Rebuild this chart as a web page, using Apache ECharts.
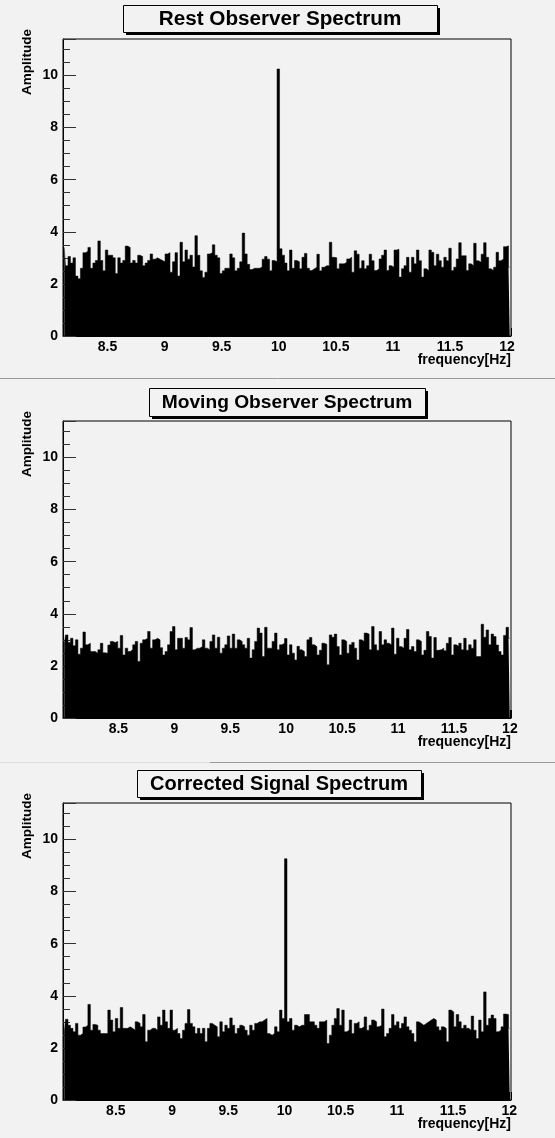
<!DOCTYPE html>
<html>
<head>
<meta charset="utf-8">
<title>Observer spectra</title>
<script src="https://cdn.jsdelivr.net/npm/echarts@6/dist/echarts.min.js"></script>
<style>
  html, body { margin: 0; padding: 0; background: #f2f2f2; }
  #chart { width: 555px; height: 1138px; }
</style>
</head>
<body>
<div id="chart"></div>
<script>
// panel titles and frequency range of each spectrum (Hz)
const titles = ['Rest Observer Spectrum', 'Moving Observer Spectrum', 'Corrected Signal Spectrum'];
const freqRanges = [[8.11, 12.035], [8.005, 12.01], [8.03, 12.015]];
const ampMax = 11.4;

// amplitude envelope (one value per ~2.5 px column)
const restAmp = [
  3.4, 2.7, 3.05, 2.8, 3.0, 2.3, 2.2, 2.6, 3.2, 3.25, 3.4, 2.6, 2.8, 2.9, 3.65, 2.9, 2.5, 3.3, 3.1, 3.1,
  3.0, 2.4, 3.0, 2.8, 2.9, 3.45, 3.4, 2.8, 2.9, 2.8, 3.1, 3.05, 2.7, 2.8, 2.9, 3.15, 2.95, 3.0, 2.95, 2.9,
  2.85, 3.15, 3.2, 2.45, 2.85, 3.2, 2.3, 3.6, 2.85, 3.3, 2.95, 3.1, 2.65, 3.85, 3.1, 2.5, 2.25, 2.45, 3.15, 3.2,
  3.5, 3.1, 3.0, 2.4, 2.5, 2.6, 2.6, 3.15, 3.0, 2.5, 2.6, 2.85, 3.95, 3.15, 2.75, 2.55, 2.6, 2.6, 2.6, 2.65,
  2.95, 3.05, 2.95, 2.5, 2.9, 2.85, 10.25, 3.35, 3.1,
  2.8, 2.5, 3.3, 2.6, 2.9, 2.85, 2.58, 3.02, 3.17, 2.6, 2.51, 2.58, 2.64, 3.14, 2.5, 2.64, 2.7, 2.7, 3.6, 3.02,
  3.0, 2.58, 2.77, 2.77, 2.83, 2.96, 3.02, 2.45, 3.27, 3.14, 2.6, 2.89, 2.58, 2.7, 3.14, 2.89, 2.51, 2.58, 2.96, 3.1,
  3.3, 2.51, 2.7, 2.64, 3.3, 3.33, 2.26, 2.58, 2.7, 3.02, 2.45, 3.02, 2.77, 3.3, 2.89, 2.26, 2.58, 2.51, 3.3, 3.21,
  2.7, 3.14, 2.89, 2.64, 3.02, 2.89, 3.37, 2.51, 2.64, 2.96, 3.58, 3.08, 3.08, 2.51, 2.77, 2.7, 3.56, 2.89, 2.83, 3.14,
  3.58, 3.02, 2.58, 2.51, 2.64, 3.21, 2.89, 2.96, 3.43, 3.46, 2.64
];
const movingAmp = [
  2.81, 3.19, 2.9, 3.06, 2.77, 3.0, 2.45, 2.68, 3.3, 2.81, 2.87, 2.55, 2.55, 2.49, 2.62, 2.87, 2.5, 2.49, 2.8, 2.94,
  2.9, 2.94, 2.68, 3.17, 2.42, 2.68, 2.55, 2.62, 2.81, 2.94, 2.17, 2.87, 3.0, 3.06, 3.32, 2.68, 3.0, 3.06, 3.0, 2.7,
  2.42, 2.55, 2.81, 3.32, 3.51, 2.62, 3.06, 3.06, 2.68, 3.09, 3.0, 3.47, 2.62, 2.68, 2.68, 2.74, 3.0, 2.68, 2.62, 2.94,
  3.19, 2.68, 3.1, 2.49, 2.68, 2.81, 3.15, 2.68, 3.22, 2.68, 3.0, 2.94, 2.81, 2.68, 3.06, 2.3, 2.62, 2.94, 3.45, 3.26,
  2.36, 3.48, 2.68, 2.68, 2.94, 3.26, 2.62, 2.81, 2.87,
  3.05, 2.42, 2.81, 2.49, 2.23, 2.75, 2.62, 2.55, 2.36, 3.0, 3.09, 2.81, 2.74, 2.42, 2.6, 2.87, 2.83, 2.04, 3.19, 3.1,
  3.22, 2.74, 2.42, 3.0, 2.94, 2.49, 2.81, 2.9, 2.68, 2.23, 3.0, 2.94, 3.26, 3.22, 2.62, 3.51, 2.81, 2.6, 3.32, 2.81,
  3.0, 2.87, 2.81, 3.45, 2.45, 3.06, 2.74, 2.68, 3.06, 3.4, 2.62, 2.74, 2.55, 3.0, 2.94, 2.42, 2.6, 3.32, 3.13, 2.3,
  3.09, 2.6, 2.62, 2.68, 2.58, 2.87, 3.09, 2.42, 2.81, 2.75, 2.87, 2.62, 3.06, 2.6, 2.81, 2.68, 3.0, 2.36, 2.36, 3.6,
  3.1, 3.38, 2.81, 3.22, 3.13, 2.8, 2.55, 2.42, 3.17, 3.48, 3.06
];
const correctedAmp = [
  2.55, 3.1, 2.87, 2.75, 2.62, 2.94, 2.49, 2.55, 2.8, 2.87, 3.67, 2.68, 2.9, 2.87, 2.68, 2.55, 2.55, 2.55, 3.45, 3.07,
  2.62, 3.13, 2.75, 3.55, 2.75, 2.75, 2.81, 2.75, 2.68, 3.0, 2.94, 2.81, 3.28, 2.24, 2.68, 2.75, 2.75, 2.68, 3.19, 2.87,
  3.45, 3.0, 2.75, 3.45, 2.68, 2.75, 2.55, 2.36, 2.68, 2.94, 3.47, 2.94, 2.81, 2.55, 2.75, 2.55, 2.75, 2.24, 2.75, 2.94,
  2.87, 2.81, 2.43, 3.0, 2.62, 2.87, 2.75, 3.15, 2.87, 2.55, 2.75, 2.87, 2.81, 2.68, 2.49, 2.87, 2.68, 2.94, 3.0, 3.0,
  3.07, 3.13, 2.55, 2.49, 2.55, 2.81, 2.62, 3.45, 3.13,
  9.26, 3.0, 3.13, 2.68, 2.87, 2.81, 2.87, 2.87, 3.28, 3.28, 3.0, 3.0, 2.87, 2.75, 3.0, 3.0, 3.07, 2.17, 2.49, 2.87,
  3.13, 3.51, 2.87, 3.45, 2.62, 2.68, 3.07, 2.55, 2.94, 3.0, 2.75, 2.81, 3.19, 2.68, 2.87, 3.07, 3.0, 2.81, 2.87, 3.49,
  2.43, 2.55, 2.75, 3.28, 2.87, 3.0, 2.75, 2.94, 3.19, 2.81, 2.68, 2.55, 2.24, 3.0, 2.94, 2.87, 2.94, 3.0, 3.07, 3.13,
  3.07, 2.81, 2.68, 2.81, 2.75, 2.24, 3.45, 3.38, 2.81, 3.28, 3.0, 2.75, 2.87, 2.75, 2.68, 3.22, 2.68, 2.36, 3.07, 2.62,
  4.15, 2.87, 3.13, 3.26, 3.13, 2.62, 2.68, 2.81, 3.3, 3.28, 2.75
];
const spectra = [restAmp, movingAmp, correctedAmp];

// layout
const frameLeft = 63, frameWidth = 448, frameHeight = 297;
const frameTops = [39, 421, 803];
const titleBoxes = [
  { x: 123, y: 5, w: 314, h: 27, size: 20.7 },
  { x: 149, y: 388, w: 276, h: 28, size: 19.2 },
  { x: 137, y: 770, w: 284, h: 27, size: 20 }
];
const font = '"Liberation Sans", Arial, Helvetica, sans-serif';
const bg = '#f2f2f2';

// bin centres from the range of each spectrum
function toPairs(amp, range) {
  const step = (range[1] - range[0]) / amp.length;
  return amp.map((v, i) => [range[0] + (i + 0.5) * step, v]);
}

const chart = echarts.init(document.getElementById('chart'), null, { renderer: 'canvas' });

const grid = [], xAxis = [], yAxis = [], series = [], graphic = [];

spectra.forEach((amp, p) => {
  const top = frameTops[p];
  grid.push({
    left: frameLeft, top: top, width: frameWidth, height: frameHeight,
    show: true, backgroundColor: bg, borderColor: '#000', borderWidth: 1
  });
  xAxis.push({
    type: 'value', gridIndex: p,
    min: freqRanges[p][0], max: freqRanges[p][1],
    minInterval: 0.5, maxInterval: 0.5, splitNumber: 8,
    axisLine: { show: true, onZero: false, lineStyle: { color: '#000', width: 1 } },
    axisTick: { show: true, inside: true, length: 8, lineStyle: { color: '#000' } },
    splitLine: { show: false },
    axisLabel: {
      color: '#000', fontFamily: font, fontWeight: 'bold', fontSize: 14, margin: 4,
      formatter: v => (v >= 8.4 && Math.abs(v * 2 - Math.round(v * 2)) < 1e-6) ? String(+v.toFixed(1)) : ''
    }
  });
  // major ticks + labels
  yAxis.push({
    type: 'value', gridIndex: p, position: 'left',
    min: 0, max: ampMax, interval: 2,
    axisLine: { show: true, lineStyle: { color: '#000', width: 1 } },
    axisTick: { show: true, inside: true, length: 13, lineStyle: { color: '#333' } },
    splitLine: { show: false },
    axisLabel: {
      color: '#000', fontFamily: font, fontWeight: 'bold', fontSize: 14, margin: 5,
      formatter: v => (v % 2 === 0 ? String(v) : '')
    }
  });
  // minor ticks
  yAxis.push({
    type: 'value', gridIndex: p, position: 'left',
    min: 0, max: ampMax, interval: 0.5,
    axisLine: { show: false },
    axisTick: { show: true, inside: true, length: 7, lineStyle: { color: '#333' } },
    splitLine: { show: false },
    axisLabel: { show: false }
  });
  series.push({
    type: 'line', xAxisIndex: p, yAxisIndex: p * 2,
    data: toPairs(amp, freqRanges[p]),
    step: 'middle',
    symbol: 'none', silent: true, clip: true,
    lineStyle: { color: '#000', width: 0.5 },
    areaStyle: { color: '#000', opacity: 1 }
  });

  // title pave with shadow
  const b = titleBoxes[p];
  graphic.push({
    type: 'rect', shape: { x: b.x + 3, y: b.y + 3, width: b.w, height: b.h },
    style: { fill: '#000' }, silent: true, z: 10
  });
  graphic.push({
    type: 'rect', shape: { x: b.x + 0.5, y: b.y + 0.5, width: b.w, height: b.h },
    style: { fill: bg, stroke: '#000', lineWidth: 1 }, silent: true, z: 11
  });
  graphic.push({
    type: 'text', x: b.x + b.w / 2, y: b.y + b.h / 2 + 1, z: 12, silent: true,
    style: {
      text: titles[p], fill: '#000', font: 'bold ' + b.size + 'px ' + font,
      align: 'center', verticalAlign: 'middle'
    }
  });
  // axis titles
  graphic.push({
    type: 'text', x: 27, y: top - 10, rotation: Math.PI / 2, z: 12, silent: true,
    style: {
      text: 'Amplitude', fill: '#000', font: 'bold 13.5px ' + font,
      align: 'right', verticalAlign: 'middle'
    }
  });
  graphic.push({
    type: 'text', x: frameLeft + frameWidth, y: top + frameHeight + 24, z: 12, silent: true,
    style: {
      text: 'frequency[Hz]', fill: '#000', font: 'bold 14px ' + font,
      align: 'right', verticalAlign: 'middle'
    }
  });
});

// pad borders between the panels
graphic.push({
  type: 'line', shape: { x1: 0, y1: 378.5, x2: 555, y2: 378.5 },
  style: { stroke: '#9a9a9a', lineWidth: 1 }, silent: true
});
graphic.push({
  type: 'line', shape: { x1: 0, y1: 762.5, x2: 210, y2: 762.5 },
  style: { stroke: '#dcdcdc', lineWidth: 1 }, silent: true
});
graphic.push({
  type: 'line', shape: { x1: 210, y1: 762.5, x2: 555, y2: 762.5 },
  style: { stroke: '#9a9a9a', lineWidth: 1 }, silent: true
});

chart.setOption({
  backgroundColor: bg,
  animation: false,
  grid: grid,
  xAxis: xAxis,
  yAxis: yAxis,
  series: series,
  graphic: graphic
});
</script>
</body>
</html>
